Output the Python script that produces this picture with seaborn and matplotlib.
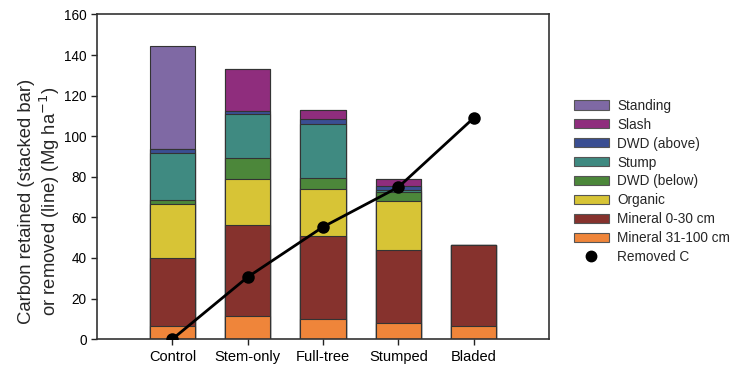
import matplotlib
matplotlib.use("Agg")
import matplotlib.pyplot as plt
from matplotlib.patches import Patch
from matplotlib.lines import Line2D
import seaborn as sns
import pandas as pd
import numpy as np

# categories and stacked components (Mg ha-1)
treatments = ["Control", "Stem-only", "Full-tree", "Stumped", "Bladed"]
mineral_31_100 = [6.3, 11.5, 9.7, 7.7, 6.6]
mineral_0_30 = [33.7, 44.6, 41.2, 36.3, 39.7]
organic = [26.7, 22.8, 23.0, 24.3, 0.0]
dwd_below = [1.9, 10.3, 5.4, 4.1, 0.0]
stump = [23.1, 21.8, 26.7, 1.0, 0.0]
dwd_above = [2.1, 1.6, 2.5, 2.0, 0.0]
slash = [0.0, 20.7, 4.6, 3.5, 0.0]
standing = [50.5, 0.0, 0.0, 0.0, 0.0]
removed_c = [0.0, 30.6, 55.3, 74.9, 109.0]

# bottom to top
layers = [
    ("Mineral 31-100 cm", mineral_31_100, "#EF853A"),
    ("Mineral 0-30 cm", mineral_0_30, "#86322D"),
    ("Organic", organic, "#D7C436"),
    ("DWD (below)", dwd_below, "#4C873A"),
    ("Stump", stump, "#3F8A81"),
    ("DWD (above)", dwd_above, "#3A4E92"),
    ("Slash", slash, "#8F2D7D"),
    ("Standing", standing, "#7F69A4"),
]

sns.set_style("ticks")
plt.rcParams["font.family"] = ["Liberation Sans", "DejaVu Sans"]

fig = plt.figure(figsize=(7.41, 3.71), dpi=100)
ax = fig.add_axes([0.131, 0.086, 0.61, 0.875])

# cumulative tops, drawn from the tallest down so lower layers cover upper ones
cum = np.cumsum([vals for _, vals, _ in layers], axis=0)
for i in range(len(layers) - 1, -1, -1):
    df = pd.DataFrame({"treatment": treatments, "top": cum[i]})
    sns.barplot(data=df, x="treatment", y="top", color=layers[i][2],
                saturation=1, width=0.6, edgecolor="#333333", linewidth=0.8,
                ax=ax, zorder=2)

line_df = pd.DataFrame({"treatment": treatments, "removed": removed_c})
sns.pointplot(data=line_df, x="treatment", y="removed", color="black",
              markersize=7.5, linewidth=2, ax=ax, zorder=5)

ax.set_xlim(-1, 5)
ax.set_ylim(0, 160)
ax.set_yticks(range(0, 161, 20))
ax.set_xlabel("")
ax.set_ylabel("Carbon retained (stacked bar)\nor removed (line) (Mg ha$^{-1}$)",
              fontsize=13.3, linespacing=1.2)
ax.yaxis.set_label_coords(-0.077, 0.424)
ax.tick_params(axis="y", labelsize=9.8)
ax.tick_params(axis="x", labelsize=10.5)
ax.tick_params(length=4, width=1, colors="#222222", labelcolor="black")
for s in ax.spines.values():
    s.set_linewidth(1.2)
    s.set_color("#333333")

handles = [Patch(facecolor=c, edgecolor="#555555", linewidth=0.8, label=n)
           for n, _, c in layers[::-1]]
handles.append(Line2D([], [], color="black", marker="o", linestyle="none",
                      markersize=7.5, label="Removed C"))
fig.legend(handles=handles, loc="upper left", bbox_to_anchor=(0.765, 0.752),
           frameon=False, fontsize=9.8, handlelength=2.6, handleheight=0.65,
           labelspacing=0.36, handletextpad=0.6, borderpad=0)

fig.savefig("out.png", dpi=100)
